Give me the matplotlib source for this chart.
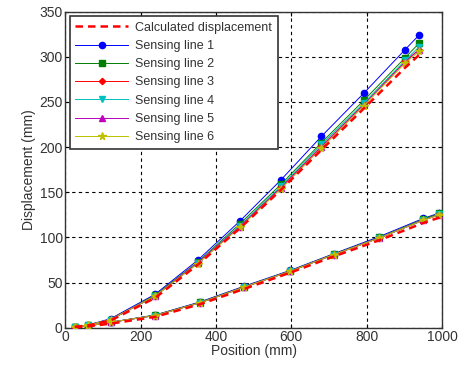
import matplotlib
matplotlib.use("Agg")
import matplotlib.pyplot as plt

plt.rcParams["font.family"] = ["Liberation Sans", "DejaVu Sans"]

# Upper set (larger displacement)
x_up = [25, 60, 120, 238, 352, 463, 573, 680, 793, 902, 939]
calc_up = [1, 2.5, 8, 33, 70, 110, 153, 197, 243, 288, 302]
s1_up = [1, 3, 10, 37, 75, 118, 164, 212, 260, 308, 324]
s2_up = [1, 3, 9, 36, 73, 115, 159, 205, 252, 299, 315]
s3_up = [1, 3, 9, 35, 72, 112, 156, 201, 248, 295, 308]
s4_up = [1, 3, 9, 35, 72, 113, 157, 203, 249, 296, 311]
s5_up = [1, 3, 9, 35, 72, 112, 155, 200, 247, 294, 308]
s6_up = [1, 3, 9, 35, 71, 111, 154, 199, 246, 293, 306]

# Lower set (smaller displacement)
x_lo = [25, 60, 120, 238, 357, 475, 597, 713, 834, 950, 993]
calc_lo = [0.5, 1.5, 4.5, 12, 26, 43, 61, 79, 97, 116, 122]
s1_lo = [1, 2, 6, 14, 28.5, 46, 63.5, 82, 101, 121, 127]
s2_lo = [1, 2, 6, 14, 28, 45.5, 63, 81.5, 100, 120, 126.5]
s3_lo = [1, 2, 6, 13.5, 27.5, 45, 62.5, 81, 99.5, 119, 125.5]
s4_lo = [1, 2, 6, 13.5, 27.5, 45, 62.5, 81, 99.5, 119, 125.5]
s5_lo = [1, 2, 6, 13.5, 27.5, 45, 62.5, 81, 99.5, 119, 125]
s6_lo = [1, 2, 6, 13.5, 27.5, 45, 62.5, 81, 99.5, 119, 125]

labels = ["Calculated displacement", "Sensing line 1", "Sensing line 2",
          "Sensing line 3", "Sensing line 4", "Sensing line 5", "Sensing line 6"]
colors = ["#0000ff", "#007f00", "#ff0000", "#00bfbf", "#bf00bf", "#bfbf00"]
markers = ["o", "s", "D", "v", "^", "*"]
msizes = [4.5, 4.5, 3.2, 4.5, 4.5, 5.5]

fig = plt.figure(figsize=(4.62, 3.70), dpi=100)
ax = fig.add_axes([0.1416, 0.1143, 0.8151, 0.8541])

up_series = [s1_up, s2_up, s3_up, s4_up, s5_up, s6_up]
lo_series = [s1_lo, s2_lo, s3_lo, s4_lo, s5_lo, s6_lo]

handles = []
for i in range(6):
    h, = ax.plot(x_up, up_series[i], color=colors[i], marker=markers[i],
                 markersize=msizes[i], linewidth=0.7, label=labels[i + 1], zorder=3)
    ax.plot(x_lo, lo_series[i], color=colors[i], marker=markers[i],
            markersize=msizes[i], linewidth=0.7, zorder=3)
    handles.append(h)

hc, = ax.plot(x_up, calc_up, color="#ff0000", linestyle=(0, (3, 2)), linewidth=1.8,
              label=labels[0], zorder=4)
ax.plot(x_lo, calc_lo, color="#ff0000", linestyle=(0, (3, 2)), linewidth=1.8, zorder=4)

ax.set_xlim(0, 1000)
ax.set_ylim(0, 350)
ax.set_xticks([0, 200, 400, 600, 800, 1000])
ax.set_yticks([0, 50, 100, 150, 200, 250, 300, 350])
ax.grid(True, color="black", linestyle=(0, (3, 3)), linewidth=0.8)
ax.tick_params(direction="in", top=True, right=True, labelsize=10, length=3, pad=2,
               labelcolor="#333333")
for sp in ax.spines.values():
    sp.set_linewidth(1.0)
    sp.set_color("#333333")

ax.set_xlabel("Position (mm)", fontsize=10, labelpad=0, color="#333333")
ax.set_ylabel("Displacement (mm)", fontsize=10, labelpad=2, color="#333333")

leg = ax.legend(handles=[hc] + handles, loc="upper left", fontsize=9,
                frameon=True, fancybox=False, edgecolor="#333333",
                borderaxespad=0.35, handlelength=4.2, labelspacing=0.5,
                borderpad=0.45, handletextpad=0.6)
leg.get_frame().set_linewidth(1.2)
leg.get_frame().set_alpha(1.0)
for t in leg.get_texts():
    t.set_color("#333333")

fig.savefig("out.png", dpi=100)
